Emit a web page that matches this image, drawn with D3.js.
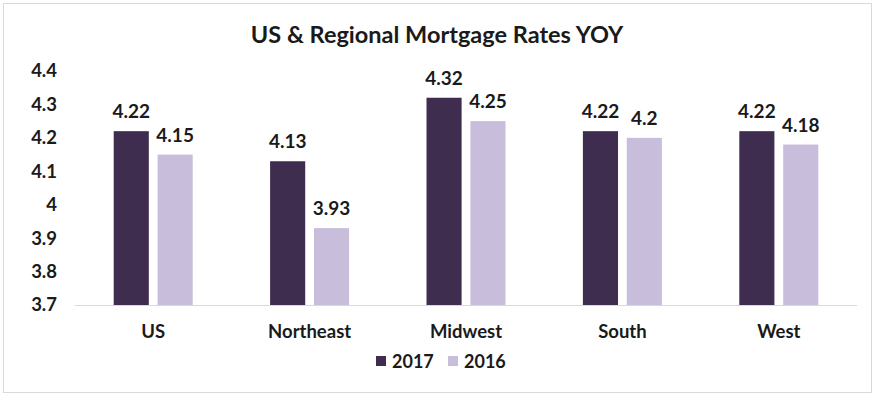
<!DOCTYPE html>
<html><head><meta charset="utf-8">
<script src="https://cdn.jsdelivr.net/npm/d3@7"></script>
<style>body{margin:0;background:#fff}svg{display:block}</style>
</head><body>
<script>
const categories = ["US","Northeast","Midwest","South","West"];
const seriesNames = ["2017","2016"];
const values2017 = [4.22,4.13,4.32,4.22,4.22];
const values2016 = [4.15,3.93,4.25,4.2,4.18];
const yTicks = [3.7,3.8,3.9,4,4.1,4.2,4.3,4.4];
const colors = ["#3f2d4f","#c8bedb"];
const title = "US & Regional Mortgage Rates YOY";

const W=876,H=400;
const font="Lato, 'Open Sans', sans-serif";
const svg=d3.select("body").append("svg").attr("width",W).attr("height",H);
svg.append("rect").attr("x",3.5).attr("y",3.5).attr("width",868).attr("height",389).attr("fill","#fff").attr("stroke","#d9d9d9");
svg.append("text").attr("x",437).attr("y",43).attr("text-anchor","middle").attr("font-family",font).attr("font-weight","bold").attr("font-size",23.5).attr("fill","#1a1a1a").text(title);

const x0=d3.scaleBand().domain(categories).range([75,857]);
const x1=d3.scaleBand().domain(seriesNames).range([0,79]).paddingInner(0.2);
const y=d3.scaleLinear().domain([3.7,4.4]).range([305,71]);

const yAxis=svg.append("g").attr("transform","translate(57,0)").call(d3.axisLeft(y).tickValues(yTicks).tickSize(0).tickPadding(0).tickFormat(d3.format("")));
yAxis.select(".domain").remove();
yAxis.selectAll("text").attr("font-family",font).attr("font-weight","bold").attr("font-size",18.5).attr("fill","#1a1a1a");

const data=categories.map((c,i)=>({cat:c,vals:[{s:"2017",v:values2017[i]},{s:"2016",v:values2016[i]}]}));
const g=svg.selectAll("g.cat").data(data).join("g").attr("class","cat")
  .attr("transform",d=>`translate(${x0(d.cat)+x0.bandwidth()/2-39.5},0)`);
g.selectAll("rect").data(d=>d.vals).join("rect")
  .attr("x",d=>x1(d.s)).attr("width",x1.bandwidth())
  .attr("y",d=>y(d.v)).attr("height",d=>y(3.7)-y(d.v))
  .attr("fill",(d,i)=>colors[i]);
g.selectAll("text").data(d=>d.vals).join("text")
  .attr("x",d=>x1(d.s)+x1.bandwidth()/2).attr("y",d=>y(d.v)-13)
  .attr("text-anchor","middle").attr("font-family",font).attr("font-weight","bold").attr("font-size",19).attr("fill","#1a1a1a")
  .text(d=>d.v);

svg.append("line").attr("x1",75).attr("x2",857).attr("y1",305.5).attr("y2",305.5).attr("stroke","#d9d9d9");

const xAxis=svg.append("g").attr("transform","translate(0,305)").call(d3.axisBottom(x0).tickSize(0).tickPadding(0));
xAxis.select(".domain").remove();
xAxis.selectAll("text").attr("dy",0).attr("y",33).attr("font-family",font).attr("font-weight","bold").attr("font-size",18.5).attr("fill","#1a1a1a");

const leg=svg.append("g");
const lx=[376,448];
seriesNames.forEach((s,i)=>{
  leg.append("rect").attr("x",lx[i]).attr("y",356).attr("width",10).attr("height",10).attr("fill",colors[i]);
  leg.append("text").attr("x",lx[i]+16).attr("y",367.5).attr("font-family",font).attr("font-weight","bold").attr("font-size",18).attr("fill","#1a1a1a").text(s);
});
</script>
</body></html>
